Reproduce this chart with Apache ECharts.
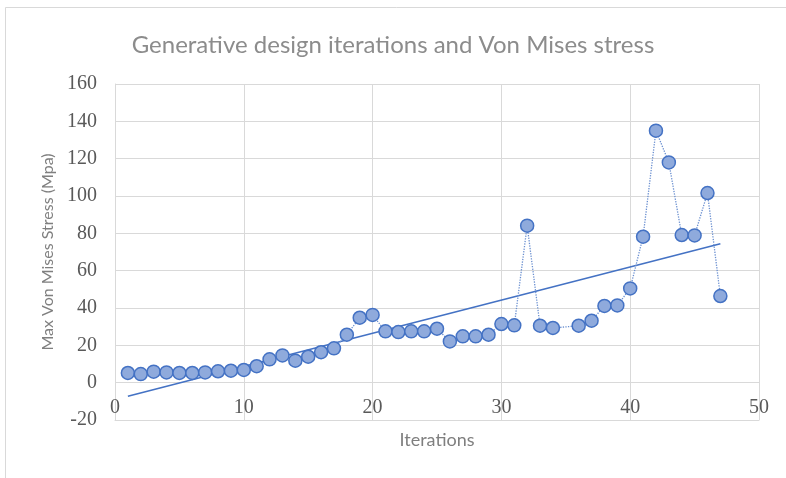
<!DOCTYPE html>
<html>
<head>
<meta charset="utf-8">
<script src="https://cdn.jsdelivr.net/npm/echarts@6/dist/echarts.min.js"></script>
<style>
html,body{margin:0;padding:0;background:#fff;}
#c{width:786px;height:478px;}
</style>
</head>
<body>
<div id="c"></div>
<script>
// Iterations (x) and Max Von Mises Stress (Mpa) values; iteration 35 is absent
const iterations = [1,2,3,4,5,6,7,8,9,10,11,12,13,14,15,16,17,18,19,20,21,22,23,24,25,26,27,28,29,30,31,32,33,34,36,37,38,39,40,41,42,43,44,45,46,47];
const stress = [5.2,4.6,5.9,5.5,5.2,5.2,5.5,6.1,6.4,6.8,8.8,12.5,14.6,11.8,13.9,16.3,18.4,25.7,34.8,36.3,27.5,27.1,27.5,27.5,28.9,22.1,24.8,24.8,25.7,31.4,30.7,84.1,30.5,29.3,30.5,33.2,41.1,41.4,50.5,78.2,135,118,79.1,78.9,101.6,46.4];
const xTicks = [0,10,20,30,40,50];
const yTicks = [-20,0,20,40,60,80,100,120,140,160];

const pts = iterations.map((x,i)=>[x,stress[i]]);
// linear trendline (least squares) from the data
const n = iterations.length;
const mx = iterations.reduce((a,b)=>a+b,0)/n;
const my = stress.reduce((a,b)=>a+b,0)/n;
let sxy=0, sxx=0;
for(let i=0;i<n;i++){sxy+=(iterations[i]-mx)*(stress[i]-my);sxx+=(iterations[i]-mx)*(iterations[i]-mx);}
const slope = sxy/sxx, intercept = my - slope*mx;
const xFirst = iterations[0], xLast = iterations[n-1];
const trend = [[xFirst, intercept+slope*xFirst],[xLast, intercept+slope*xLast]];

const chart = echarts.init(document.getElementById('c'), null, {renderer:'canvas'});
const tickFont = {fontFamily:"'Liberation Serif', serif", fontSize:20, color:'#595959'};
chart.setOption({
  backgroundColor:'#ffffff',
  animation:false,
  title:{
    text:'Generative design iterations and Von Mises stress',
    left:'center', top:28,
    textStyle:{fontFamily:'Lato', fontSize:24, fontWeight:'normal', color:'#8c8c8c'}
  },
  graphic:[{type:'rect', shape:{x:5.5,y:7.5,width:800,height:500}, style:{fill:'none', stroke:'#d9d9d9', lineWidth:1}, silent:true}],
  grid:{left:115, right:27, top:84, bottom:58, containLabel:false, outerBoundsMode:'none'},
  xAxis:{
    type:'value', min:xTicks[0], max:xTicks[xTicks.length-1], interval:10,
    name:'Iterations', nameLocation:'middle', nameGap:11,
    nameTextStyle:{fontFamily:'Lato', fontSize:18, color:'#7f7f7f'},
    axisLine:{show:true, onZero:false, lineStyle:{color:'#d9d9d9', width:1}},
    axisTick:{show:false},
    axisLabel:Object.assign({margin:-22}, tickFont),
    splitLine:{show:true, lineStyle:{color:'#d9d9d9', width:1}}
  },
  yAxis:{
    type:'value', min:yTicks[0], max:yTicks[yTicks.length-1], interval:20,
    name:'Max Von Mises Stress (Mpa)', nameLocation:'middle', nameGap:59, nameRotate:90,
    nameTextStyle:{fontFamily:'Lato', fontSize:16, color:'#7f7f7f'},
    axisLine:{show:true, onZero:false, lineStyle:{color:'#d9d9d9', width:1}},
    axisTick:{show:false},
    axisLabel:Object.assign({margin:18}, tickFont),
    splitLine:{show:true, lineStyle:{color:'#d9d9d9', width:1}}
  },
  series:[
    {
      type:'line', data:trend, showSymbol:false, symbol:'none', z:1,
      lineStyle:{color:'#4472c4', width:1.6, type:'solid'}
    },
    {
      type:'line', data:pts, z:2,
      symbol:'circle', symbolSize:13,
      itemStyle:{color:'#8faadc', borderColor:'#4472c4', borderWidth:1.5},
      lineStyle:{color:'#6a8fd0', width:1.3, type:'dotted'}
    }
  ]
});
</script>
</body>
</html>
